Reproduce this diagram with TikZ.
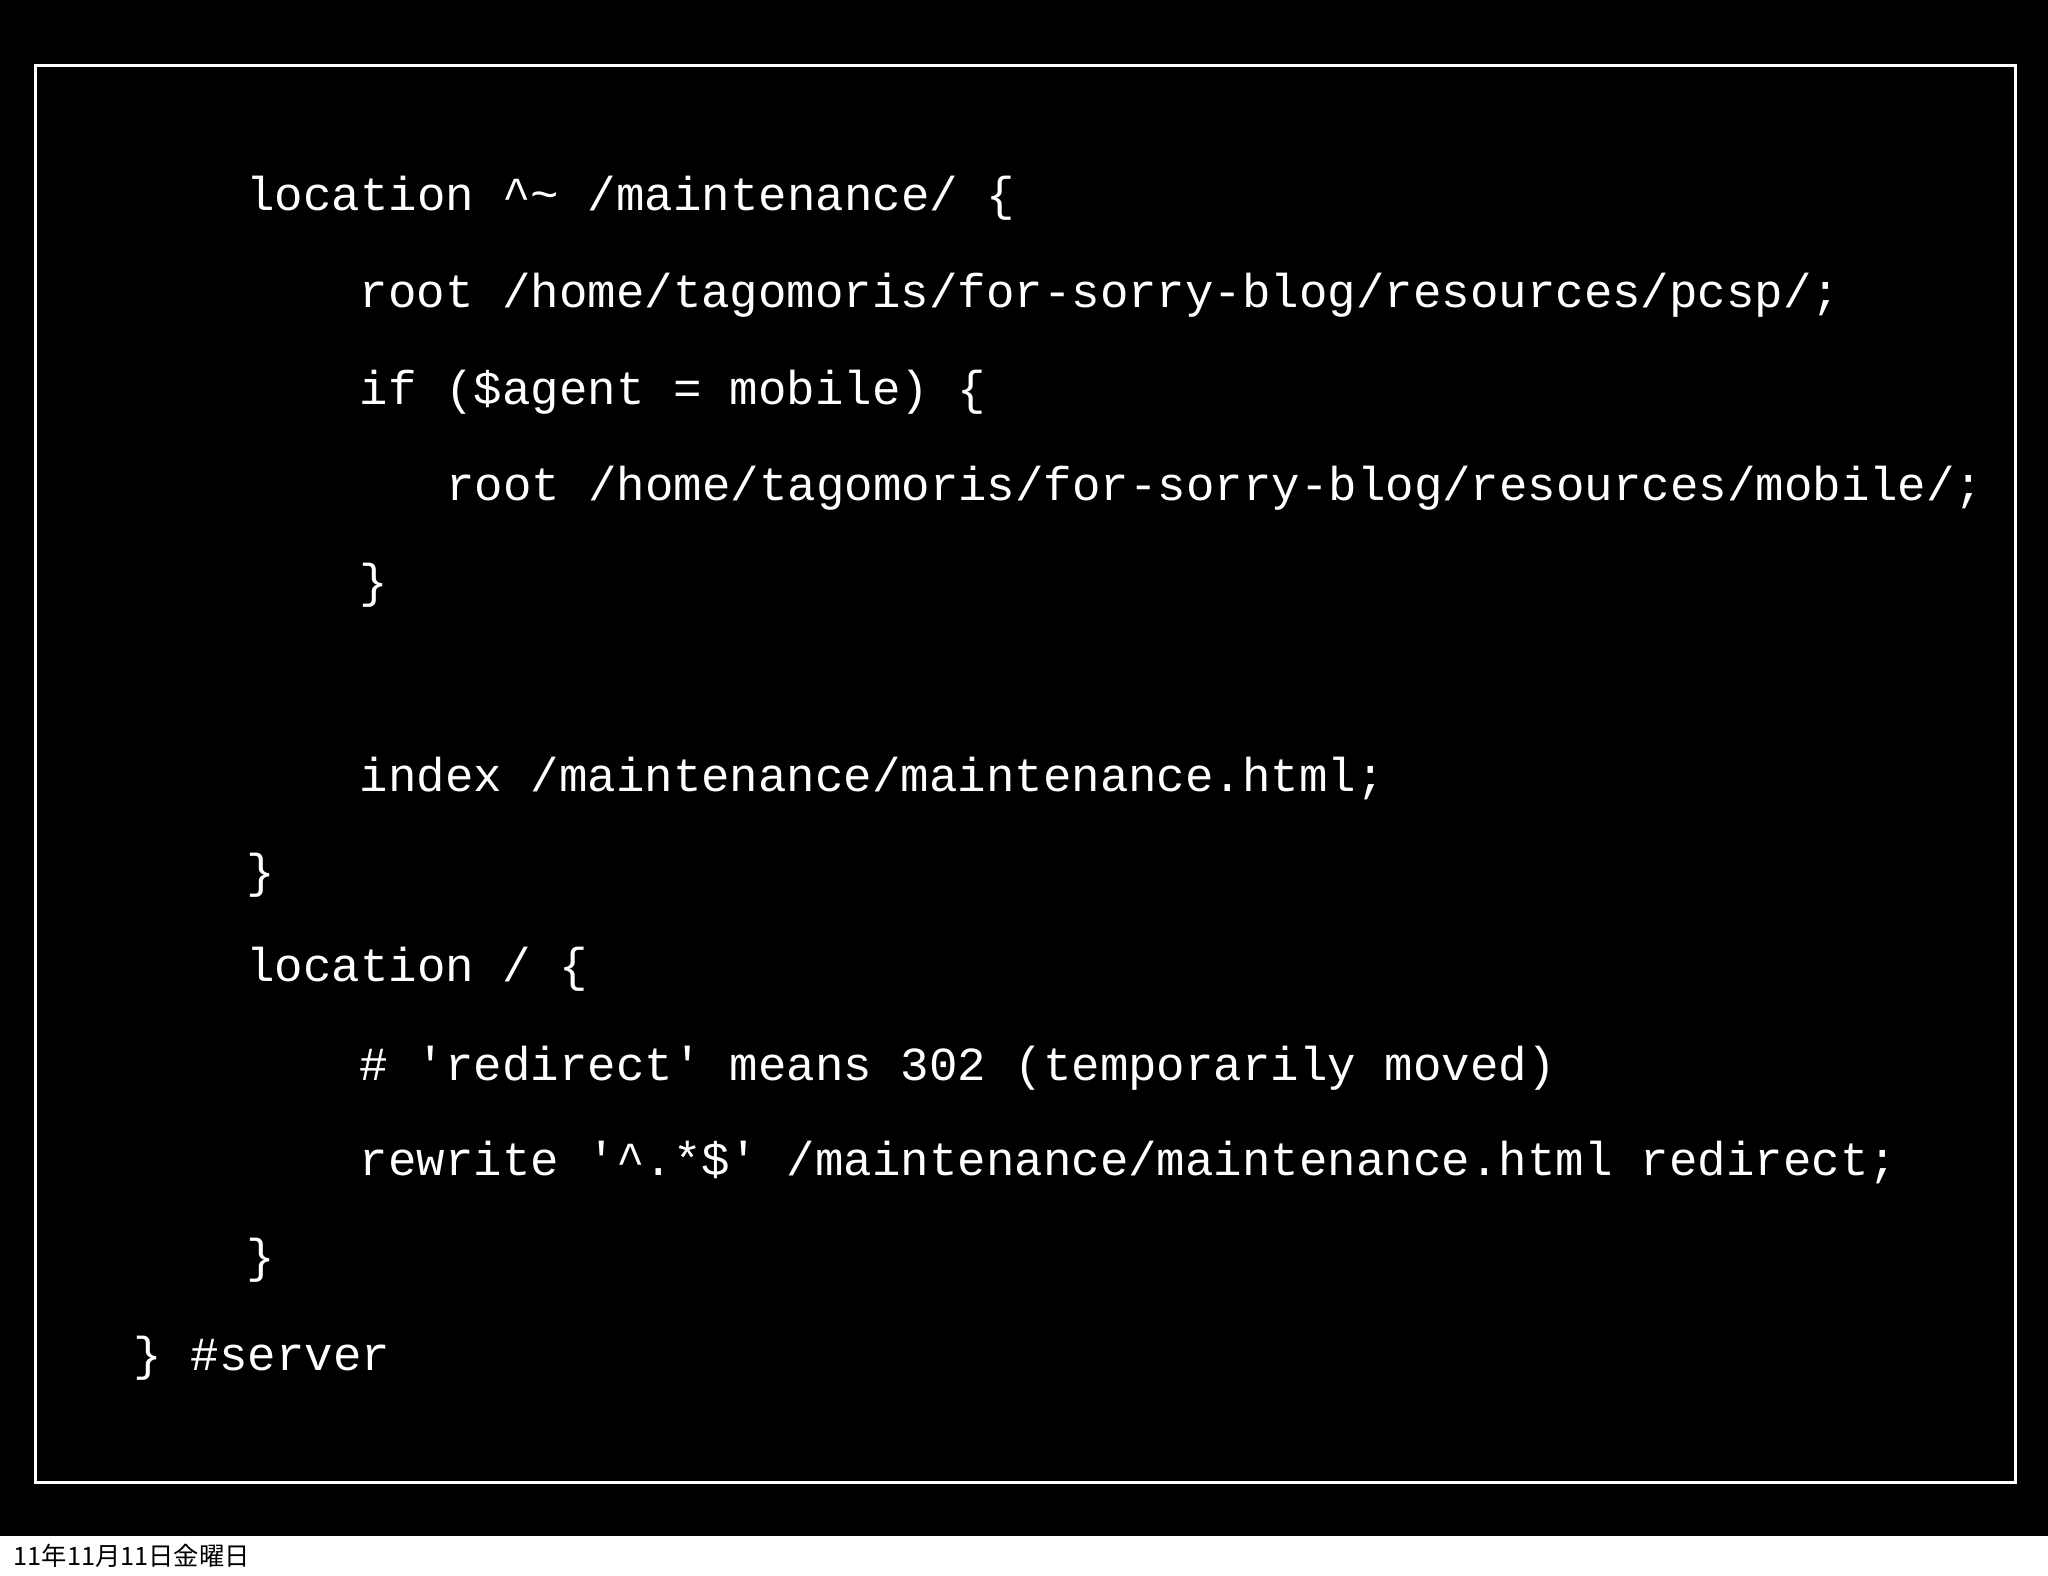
\documentclass[tikz,border=0pt]{standalone}
\usepackage{fontspec}
\setmonofont{Liberation Mono}
\newfontfamily\cjk{Noto Sans CJK JP}
\begin{document}
\begin{tikzpicture}[x=0.01306cm,y=-0.01306cm,
  code/.style={anchor=west,inner sep=0pt,text=white,font=\ttfamily\fontsize{13.5pt}{14pt}\selectfont}]
\useasboundingbox (0,0) rectangle (1568,1206);
\fill[black] (0,0) rectangle (1568,1176);
\draw[white,line width=0.8pt] (27,50) rectangle (1543,1135);
\node[code] (l1) at (188,152) {location \textasciicircum\textasciitilde{} /maintenance/ \{};
\node[code] (l2) at (275,226) {root /home/tagomoris/for-sorry-blog/resources/pcsp/;};
\node[code] (l3) at (275,300) {if (\$agent = mobile) \{};
\node[code] (l4) at (341,374) {root /home/tagomoris/for-sorry-blog/resources/mobile/;};
\node[code] (l5) at (275,448) {\}};
\node[code] (l6) at (275,596) {index /maintenance/maintenance.html;};
\node[code] (l7) at (188,670) {\}};
\node[code] (l8) at (188,742) {location / \{};
\node[code] (l9) at (275,818) {\# 'redirect' means 302 (temporarily moved)};
\node[code] (l10) at (275,890) {rewrite '\textasciicircum.*\$' /maintenance/maintenance.html redirect;};
\node[code] (l11) at (188,965) {\}};
\node[code] (l12) at (102,1040) {\} \#server};
\node[anchor=west,inner sep=0pt,font=\cjk\fontsize{7.2pt}{8pt}\selectfont] (date) at (10,1191) {11年11月11日金曜日};
\end{tikzpicture}
\end{document}
